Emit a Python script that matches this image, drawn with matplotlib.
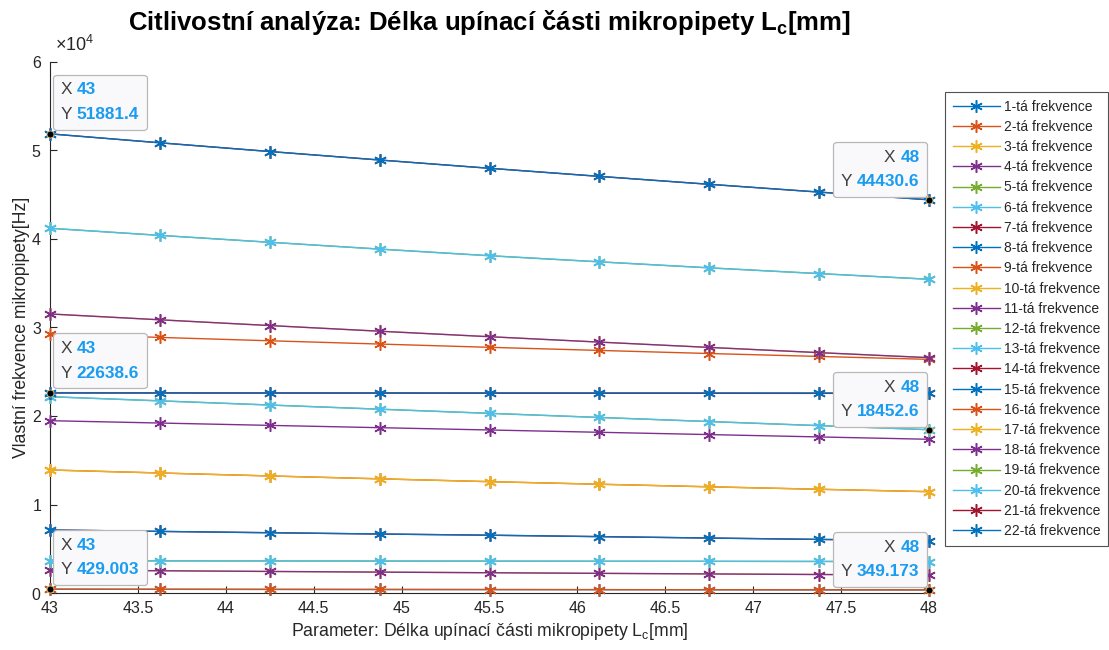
import matplotlib
matplotlib.use("Agg")
import matplotlib.pyplot as plt
from matplotlib.offsetbox import TextArea, HPacker, VPacker, AnnotationBbox

plt.rcParams['font.family'] = ['Liberation Sans', 'DejaVu Sans']
plt.rcParams['mathtext.fontset'] = 'custom'
plt.rcParams['mathtext.rm'] = 'Liberation Sans'
plt.rcParams['mathtext.bf'] = 'Liberation Sans:bold'

# Clamping length parameter Lc [mm]
lc = [43.0, 43.625, 44.25, 44.875, 45.5, 46.125, 46.75, 47.375, 48.0]

# Natural frequencies [Hz] of the micropipette, modes 1..22
f01 = [429.003, 418, 408, 398, 388, 378, 368, 358.5, 349.173]
f02 = [429.003, 418, 408, 398, 388, 378, 368, 358.5, 349.173]
f03 = [2600, 2515, 2435, 2360, 2290, 2220, 2155, 2090, 2030]
f04 = [2600, 2515, 2435, 2360, 2290, 2220, 2155, 2090, 2030]
f05 = [3640, 3630, 3620, 3610, 3600, 3590, 3580, 3565, 3550]
f06 = [3640, 3630, 3620, 3610, 3600, 3590, 3580, 3565, 3550]
f07 = [7120, 6960, 6810, 6665, 6530, 6370, 6210, 6055, 5910]
f08 = [7120, 6960, 6810, 6665, 6530, 6370, 6210, 6055, 5910]
f09 = [13900, 13560, 13225, 12900, 12580, 12290, 12000, 11720, 11450]
f10 = [13900, 13560, 13225, 12900, 12580, 12290, 12000, 11720, 11450]
f11 = [19470, 19205, 18940, 18680, 18420, 18160, 17900, 17635, 17370]
f12 = [22180, 21710, 21240, 20770, 20300, 19835, 19373, 18912, 18452.6]
f13 = [22180, 21710, 21240, 20770, 20300, 19835, 19373, 18912, 18452.6]
f14 = [22590, 22586, 22581, 22577, 22572, 22567, 22563, 22558, 22554]
f15 = [22638.6, 22634, 22629, 22625, 22620, 22615, 22611, 22606, 22602]
f16 = [29270, 28880, 28500, 28130, 27760, 27410, 27060, 26730, 26400]
f17 = [31530, 30870, 30220, 29580, 28960, 28350, 27750, 27160, 26590]
f18 = [31530, 30870, 30220, 29580, 28960, 28350, 27750, 27160, 26590]
f19 = [41210, 40410, 39630, 38860, 38110, 37420, 36740, 36090, 35450]
f20 = [41210, 40410, 39630, 38860, 38110, 37420, 36740, 36090, 35450]
f21 = [51881.4, 50871, 49886, 48926, 47991, 47076, 46181, 45301, 44430.6]
f22 = [51881.4, 50871, 49886, 48926, 47991, 47076, 46181, 45301, 44430.6]

modes = [f01, f02, f03, f04, f05, f06, f07, f08, f09, f10, f11,
         f12, f13, f14, f15, f16, f17, f18, f19, f20, f21, f22]
labels = [f"{i}-tá frekvence" for i in range(1, 23)]

# Data tips: (x, y, side)
tips_x = [43, 43, 43, 48, 48, 48]
tips_y = [51881.4, 22638.6, 429.003, 44430.6, 18452.6, 349.173]
tips_side = ['left', 'left', 'left', 'right', 'right', 'right']

colors = ['#0072BD', '#D95319', '#EDB120', '#7E2F8E',
          '#77AC30', '#4DBEEE', '#A2142F']
text_col = '#262626'

fig = plt.figure(figsize=(11.09, 6.5), dpi=100)
ax = fig.add_axes([50/1109, 1 - 593/650, (929 - 50)/1109, (593 - 62)/650])

asterisk = (6, 2, 0)
for i, (ys, lab) in enumerate(zip(modes, labels)):
    ax.plot(lc, ys, '-', marker=asterisk, color=colors[i % 7], lw=1.0,
            ms=9, mew=1.1, label=lab, clip_on=False, zorder=3)

ax.set_xlim(43, 48)
ax.set_ylim(0, 60000)
ax.set_xticks([43, 43.5, 44, 44.5, 45, 45.5, 46, 46.5, 47, 47.5, 48])
ax.set_xticklabels(['43', '43.5', '44', '44.5', '45', '45.5', '46',
                    '46.5', '47', '47.5', '48'])
ax.set_yticks([0, 10000, 20000, 30000, 40000, 50000, 60000])
ax.ticklabel_format(axis='y', style='sci', scilimits=(4, 4), useMathText=True)
ax.yaxis.get_offset_text().set_visible(False)
ax.text(0.006, 1.014, r'$\times$10$^{4}$', transform=ax.transAxes,
        fontsize=13, color=text_col, ha='left', va='bottom')

for s in ['top', 'right']:
    ax.spines[s].set_visible(False)
for s in ['left', 'bottom']:
    ax.spines[s].set_color(text_col)
    ax.spines[s].set_linewidth(0.8)
ax.tick_params(direction='in', length=5, width=0.8, labelsize=11.5,
               colors=text_col, pad=6)

ax.set_title(r'Citlivostní analýza: Délka upínací části mikropipety L$_\mathbf{c}$[mm]',
             fontsize=18.5, fontweight='bold', pad=23)
ax.set_xlabel(r'Parameter: Délka upínací části mikropipety L$_\mathrm{c}$[mm]',
              fontsize=12.7, color=text_col, labelpad=3)
ax.set_ylabel('Vlastní frekvence mikropipety[Hz]', fontsize=12.7,
              color=text_col, labelpad=1)

# Data tips
for tx, ty, side in zip(tips_x, tips_y, tips_side):
    ax.plot([tx], [ty], 'o', color='black', ms=5, mec='#d8c070', mew=0.6,
            clip_on=False, zorder=8)
    rows = []
    for name, val in (('X', f"{tx:g}"), ('Y', f"{ty:g}" if ty < 1000 else f"{ty:.1f}")):
        ta1 = TextArea(name + ' ', textprops=dict(color='#404040', fontsize=12.4))
        ta2 = TextArea(val, textprops=dict(color='#1a9cf0', fontsize=12.4,
                                           fontweight='bold'))
        rows.append(HPacker(children=[ta1, ta2], pad=0, sep=0, align='baseline'))
    box = VPacker(children=rows, pad=0, sep=7,
                  align='left' if side == 'left' else 'right')
    if side == 'left':
        xybox, align = (7.8, 8.5), (0, 0)
    else:
        xybox, align = (-6.8, 7.5), (1, 0)
    ab = AnnotationBbox(box, (tx, ty), xybox=xybox, xycoords='data',
                        boxcoords='offset points', box_alignment=align,
                        bboxprops=dict(boxstyle='round,pad=0.55,rounding_size=0.25',
                                       fc='#f9f9fc', ec='#b8b8b8', lw=0.9),
                        pad=0.45, frameon=True, zorder=7,
                        annotation_clip=False)
    ax.add_artist(ab)

leg = ax.legend(loc='upper left', bbox_to_anchor=(945/1109, 1 - 92/650),
                bbox_transform=fig.transFigure, fontsize=10, frameon=True,
                fancybox=False, edgecolor=text_col, handlelength=3.4,
                handletextpad=0.3, labelspacing=0.447, borderpad=0.55,
                borderaxespad=0)
leg.get_frame().set_linewidth(0.8)
for t in leg.get_texts():
    t.set_color(text_col)

fig.savefig('out.png', dpi=100)
